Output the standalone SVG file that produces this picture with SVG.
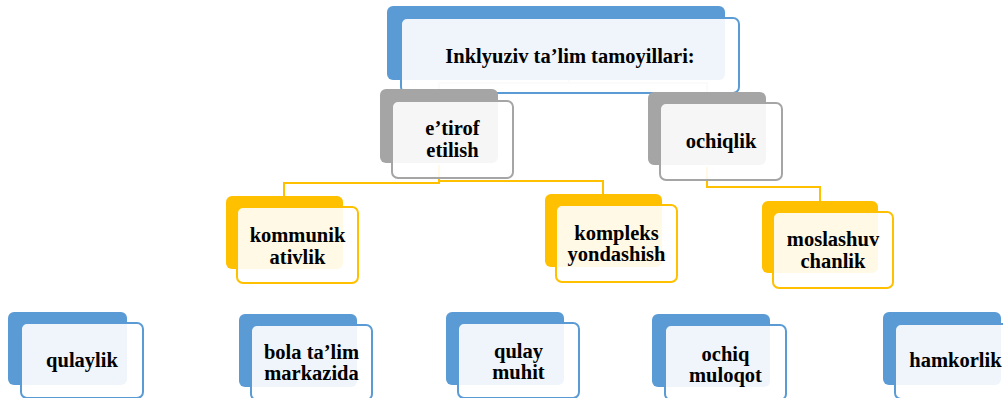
<svg xmlns="http://www.w3.org/2000/svg" width="1003" height="398" viewBox="0 0 1003 398">
<style>
.conn{fill:none;stroke-width:2}
.back{stroke:none}
.front{fill:#fff;fill-opacity:0.9;stroke-width:2}
.blue .back{fill:#5B9BD5}.blue .front{stroke:#5B9BD5}
.gray .back{fill:#A5A5A5}.gray .front{stroke:#A5A5A5}
.yel .back{fill:#FFC000}.yel .front{stroke:#FFC000}
text{font-family:"Liberation Serif","Times New Roman",serif;font-weight:bold;font-size:20.5px;fill:#000;text-anchor:middle}
</style>
<rect width="1003" height="398" fill="#fff"/>
<g id="connectors">
<path class="conn" stroke="#CFCFCF" stroke-width="1.5" d="M569,80 V83 H439 V89 M569,83 H707 V92"/>
<path class="conn" stroke="#FFC000" d="M439,165 V183 H284 V196 M439,181 H603 V194"/>
<path class="conn" stroke="#FFC000" d="M707,167 V187 H820 V201"/>
</g>
<g id="n-top" class="blue">
<rect class="back" x="387" y="6" width="338" height="74" rx="6"/>
<rect class="front" x="401" y="18" width="338" height="75" rx="6"/>
<text x="570" y="63" font-size="21">Inklyuziv ta’lim tamoyillari:</text>
</g>
<g id="n-etirof" class="gray">
<rect class="back" x="380" y="89" width="118" height="74" rx="6"/>
<rect class="front" x="392" y="101" width="121" height="77" rx="6"/>
<text x="452.5" y="135">e’tirof</text>
<text x="452.5" y="156.5">etilish</text>
</g>
<g id="n-ochiqlik" class="gray">
<rect class="back" x="648" y="92" width="118" height="73" rx="6"/>
<rect class="front" x="660" y="103" width="122" height="77" rx="6"/>
<text x="721" y="148">ochiqlik</text>
</g>
<g id="n-kommunikativlik" class="yel">
<rect class="back" x="226" y="196" width="117" height="73" rx="6"/>
<rect class="front" x="237" y="207" width="121" height="76" rx="6"/>
<text x="297.5" y="242">kommunik</text>
<text x="297.5" y="263.5">ativlik</text>
</g>
<g id="n-kompleks" class="yel">
<rect class="back" x="545" y="194" width="117" height="73" rx="6"/>
<rect class="front" x="556" y="205" width="121" height="77" rx="6"/>
<text x="616.5" y="239.5">kompleks</text>
<text x="616.5" y="261">yondashish</text>
</g>
<g id="n-moslashuvchanlik" class="yel">
<rect class="back" x="762" y="201" width="116" height="72" rx="6"/>
<rect class="front" x="773" y="212" width="120" height="76" rx="6"/>
<text x="833" y="246">moslashuv</text>
<text x="833" y="267.5">chanlik</text>
</g>
<g id="n-qulaylik" class="blue">
<rect class="back" x="8" y="312" width="119" height="73" rx="6"/>
<rect class="front" x="21" y="323" width="122" height="75" rx="6"/>
<text x="82" y="367">qulaylik</text>
</g>
<g id="n-bola" class="blue">
<rect class="back" x="239" y="314" width="118" height="73" rx="6"/>
<rect class="front" x="251" y="325" width="121" height="75" rx="6"/>
<text x="311.5" y="358.5">bola ta’lim</text>
<text x="311.5" y="380">markazida</text>
</g>
<g id="n-qulay-muhit" class="blue">
<rect class="back" x="446" y="312" width="118" height="73" rx="6"/>
<rect class="front" x="458" y="323" width="121" height="75" rx="6"/>
<text x="518.5" y="357.5">qulay</text>
<text x="518.5" y="379">muhit</text>
</g>
<g id="n-ochiq-muloqot" class="blue">
<rect class="back" x="652" y="314" width="118" height="73" rx="6"/>
<rect class="front" x="665" y="325" width="121" height="75" rx="6"/>
<text x="725.5" y="360.5">ochiq</text>
<text x="725.5" y="382">muloqot</text>
</g>
<g id="n-hamkorlik" class="blue">
<rect class="back" x="883" y="312" width="118" height="73" rx="6"/>
<rect class="front" x="895" y="324" width="121" height="75" rx="6"/>
<text x="955.5" y="367">hamkorlik</text>
</g>
</svg>
